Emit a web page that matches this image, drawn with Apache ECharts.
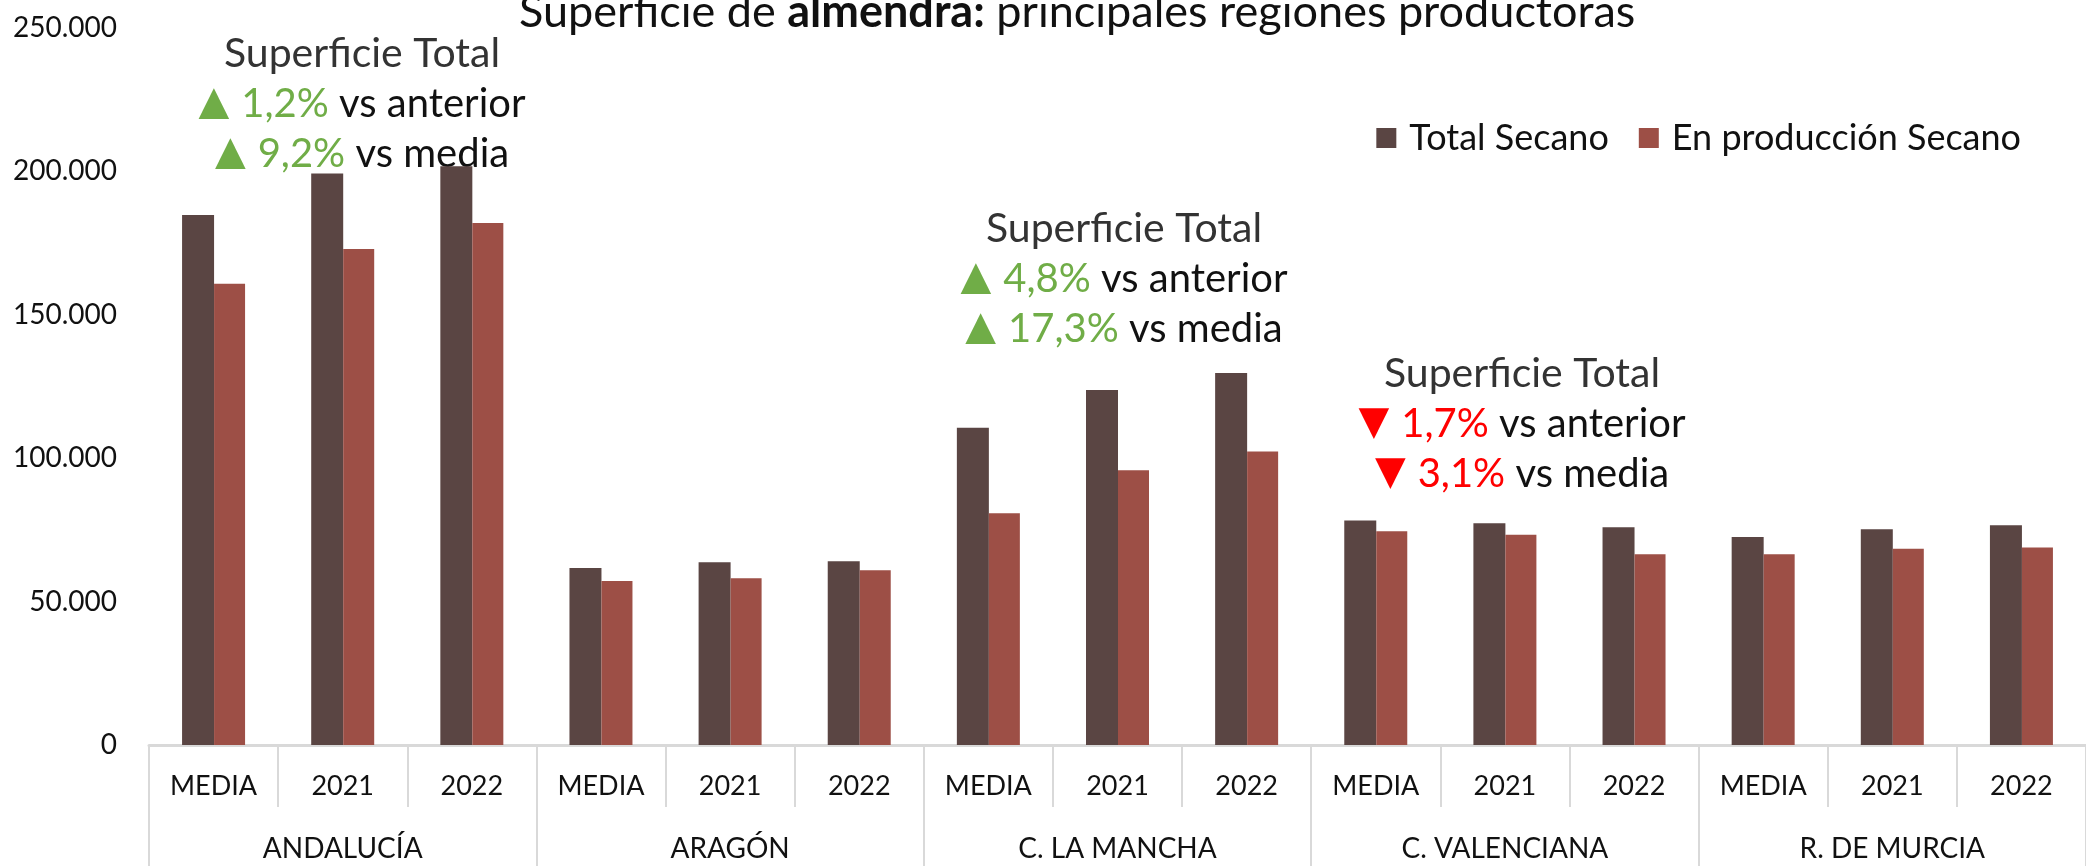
<!DOCTYPE html>
<html>
<head>
<meta charset="utf-8">
<script src="https://cdn.jsdelivr.net/npm/echarts@6/dist/echarts.min.js"></script>
<style>
  html, body { margin: 0; padding: 0; background: #fff; }
  #chart { width: 2086px; height: 866px; }
</style>
</head>
<body>
<div id="chart"></div>
<script>
// datos
const regions = ['ANDALUCÍA', 'ARAGÓN', 'C. LA MANCHA', 'C. VALENCIANA', 'R. DE MURCIA']
const periods = ['MEDIA', '2021', '2022']
const totalSecano = [184800, 199300, 201800, 61700, 63700, 64100, 110600, 123800, 129700, 78300, 77300, 75900, 72500, 75200, 76600]
const produccionSecano = [160800, 172900, 182000, 57200, 58100, 60900, 80800, 95800, 102300, 74500, 73300, 66500, 66500, 68400, 68900]
const yTicks = [0, 50000, 100000, 150000, 200000, 250000]

const notes = [
  { x: 362, y: 54, up: true, anterior: '1,2%', media: '9,2%' },
  { x: 1124, y: 229, up: true, anterior: '4,8%', media: '17,3%' },
  { x: 1522, y: 374, up: false, anterior: '1,7%', media: '3,1%' }
]

const FONT = 'Lato, "Open Sans", sans-serif'
const categories = []
regions.forEach(() => periods.forEach(p => categories.push(p)))

function fmt(v) {
  return String(v).replace(/\B(?=(\d{3})+(?!\d))/g, '.')
}

function noteGraphics(n) {
  const col = n.up ? '#70AD47' : '#FF0000'
  const arrow = n.up ? '▲' : '▼'
  const rich = {
    t: { fill: col, font: '40px "DejaVu Sans"', padding: [0, 12, 0, 0] },
    g: { fill: col, font: '40px ' + FONT },
    k: { fill: '#111', font: '40px ' + FONT }
  }
  return [
    { type: 'text', x: n.x, y: n.y, style: { text: 'Superficie Total', font: '41px ' + FONT, fill: '#333', align: 'center', verticalAlign: 'middle' } },
    { type: 'text', x: n.x, y: n.y + 50, style: { text: '{t|' + arrow + '}{g|' + n.anterior + '}{k| vs anterior}', rich, align: 'center', verticalAlign: 'middle' } },
    { type: 'text', x: n.x, y: n.y + 100, style: { text: '{t|' + arrow + '}{g|' + n.media + '}{k| vs media}', rich, align: 'center', verticalAlign: 'middle' } }
  ]
}

const chart = echarts.init(document.getElementById('chart'))
chart.setOption({
  animation: false,
  textStyle: { fontFamily: FONT },
  title: {
    text: '{a|Superficie de }{b|almendra:}{a| principales regiones productoras}',
    left: 519,
    top: -10,
    padding: 0,
    textStyle: {
      rich: {
        a: { fontSize: 45, color: '#111', fontWeight: 'normal', fontFamily: FONT },
        b: { fontSize: 45, color: '#111', fontWeight: 'bold', fontFamily: FONT }
      }
    }
  },
  legend: {
    right: 60,
    top: 115,
    itemWidth: 20,
    itemHeight: 20,
    itemGap: 30,
    icon: 'rect',
    textStyle: { fontSize: 36, color: '#111', fontFamily: FONT, padding: [0, 0, 0, 8] },
    data: ['Total Secano', 'En producción Secano']
  },
  grid: { left: 149, right: 0, top: 28, bottom: 121 },
  xAxis: [{
    type: 'category',
    data: categories,
    axisLine: { lineStyle: { color: '#D9D9D9', width: 3 } },
    axisTick: { show: true, length: 62, lineStyle: { color: '#D9D9D9', width: 2 } },
    axisLabel: { fontSize: 27, color: '#111', margin: 28, interval: 0 }
  }, {
    type: 'category',
    position: 'bottom',
    data: regions,
    axisLine: { show: false },
    axisTick: { show: true, length: 130, lineStyle: { color: '#D9D9D9', width: 2 } },
    axisLabel: { fontSize: 28, color: '#111', margin: 90, interval: 0 }
  }],
  yAxis: {
    type: 'value',
    min: 0,
    max: yTicks[yTicks.length - 1],
    interval: yTicks[1] - yTicks[0],
    splitLine: { show: false },
    axisLine: { show: false },
    axisLabel: { fontSize: 28, color: '#111', margin: 32, formatter: fmt }
  },
  series: [{
    name: 'Total Secano',
    type: 'bar',
    barWidth: 32,
    barGap: '0%',
    itemStyle: { color: '#5A4543' },
    data: totalSecano
  }, {
    name: 'En producción Secano',
    type: 'bar',
    barWidth: 31,
    barGap: '0%',
    itemStyle: { color: '#9D4F46' },
    data: produccionSecano
  }],
  graphic: notes.flatMap(noteGraphics)
})
</script>
</body>
</html>
